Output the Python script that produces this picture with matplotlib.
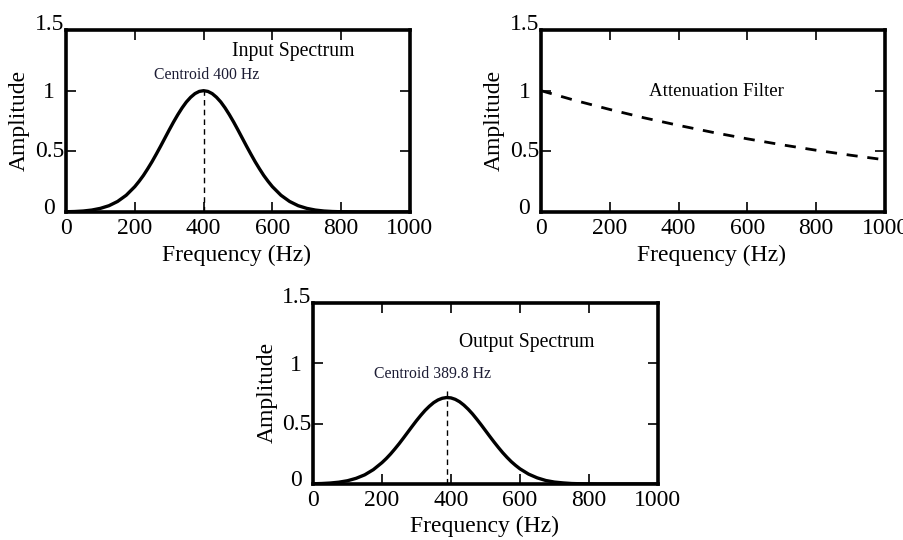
import matplotlib
matplotlib.use('Agg')
import matplotlib.pyplot as plt
from matplotlib.transforms import ScaledTranslation

plt.rcParams['font.family'] = ['Liberation Serif', 'DejaVu Serif']

# Frequenzachse (Hz) fuer die Spektren, feiner im Bereich 200-600 Hz
freq = [0, 25, 50, 75, 100, 125, 150, 175, 200,
        212.5, 225, 237.5, 250, 262.5, 275, 287.5, 300, 312.5, 325, 337.5, 350,
        362.5, 375, 387.5, 400, 412.5, 425, 437.5, 450, 462.5, 475, 487.5, 500,
        512.5, 525, 537.5, 550, 562.5, 575, 587.5, 600,
        625, 650, 675, 700, 725, 750, 775, 800, 825, 850, 875, 900, 925, 950, 975, 1000]

# Eingangsspektrum
input_amp = [0.002, 0.004, 0.008, 0.016, 0.030, 0.052, 0.087, 0.138, 0.209,
             0.253, 0.301, 0.356, 0.414, 0.477, 0.542, 0.609, 0.676, 0.741, 0.802, 0.858, 0.907,
             0.946, 0.976, 0.994, 1.000, 0.994, 0.976, 0.946, 0.907, 0.858, 0.802, 0.741, 0.676,
             0.609, 0.542, 0.477, 0.414, 0.356, 0.301, 0.253, 0.209,
             0.138, 0.087, 0.052, 0.030, 0.016, 0.008, 0.004, 0.002, 0.001, 0.0, 0.0, 0.0, 0.0, 0.0, 0.0, 0.0]

# Daempfungsfilter
filter_freq = [0, 100, 200, 300, 400, 500, 600, 700, 800, 900, 1000]
filter_amp = [1.0, 0.919, 0.845, 0.776, 0.714, 0.656, 0.603, 0.554, 0.509, 0.468, 0.430]

# Ausgangsspektrum
output_amp = [0.002, 0.004, 0.008, 0.015, 0.027, 0.047, 0.076, 0.119, 0.177,
              0.211, 0.249, 0.291, 0.335, 0.382, 0.430, 0.478, 0.525, 0.569, 0.610, 0.645, 0.675,
              0.697, 0.711, 0.717, 0.714, 0.702, 0.682, 0.654, 0.620, 0.581, 0.537, 0.491, 0.443,
              0.395, 0.348, 0.303, 0.260, 0.221, 0.185, 0.154, 0.126,
              0.082, 0.051, 0.029, 0.016, 0.009, 0.004, 0.002, 0.001, 0.0, 0.0, 0.0, 0.0, 0.0, 0.0, 0.0, 0.0]

centroid_in = 400
centroid_out = 389.8

xticks = [0, 200, 400, 600, 800, 1000]
yticks = [0, 0.5, 1, 1.5]
ytick_labels = ['0', '0.5', '1', '1.5']
# vertikale Verschiebung der y-Beschriftungen (Punkte)
ytick_shift = [4, 1.5, 0.5, 6]

fig = plt.figure(figsize=(9.04, 5.40), dpi=100)
ax1 = fig.add_axes([0.073, 0.6074, 0.3805, 0.337])
ax2 = fig.add_axes([0.5985, 0.6074, 0.3805, 0.337])
ax3 = fig.add_axes([0.3462, 0.1037, 0.3816, 0.335])


def style_axes(ax, ylab_x):
    ax.set_xlim(0, 1000)
    ax.set_ylim(0, 1.5)
    ax.set_xticks(xticks)
    ax.set_xticklabels([str(t) for t in xticks])
    ax.set_yticks(yticks)
    ax.set_yticklabels(ytick_labels)
    for s in ax.spines.values():
        s.set_linewidth(2.6)
    ax.tick_params(direction='in', top=True, right=True, length=7, width=1.2,
                   labelsize=17)
    ax.tick_params(axis='x', pad=4)
    ax.tick_params(axis='y', pad=12)
    for lab, dy in zip(ax.get_yticklabels(), ytick_shift):
        lab.set_ha('center')
        lab.set_transform(lab.get_transform() + ScaledTranslation(0, dy / 72, fig.dpi_scale_trans))
    ax.set_xlabel('Frequency (Hz)', fontsize=17, va='center')
    ax.set_ylabel('Amplitude', fontsize=17, va='center')
    ax.xaxis.set_label_coords(0.497, -0.236)
    ax.yaxis.set_label_coords(ylab_x, 0.505)


# Eingangsspektrum
ax1.plot(freq, input_amp, color='black', lw=2.4, solid_joinstyle='round')
ax1.plot([centroid_in, centroid_in], [0, 1.0], color='black', lw=1.0, ls=(0, (4, 3)))
ax1.text(662, 1.32, 'Input Spectrum', fontsize=14.2, ha='center', va='center')
ax1.text(408, 1.13, 'Centroid 400 Hz', fontsize=11.3, ha='center', va='center', color='#1c1c34')
style_axes(ax1, -0.137)

# Filter
ax2.plot(filter_freq, filter_amp, color='black', lw=2.0, ls=(0, (4, 3.5)))
ax2.text(510, 0.99, 'Attenuation Filter', fontsize=13.6, ha='center', va='center')
style_axes(ax2, -0.137)

# Ausgangsspektrum
ax3.plot(freq, output_amp, color='black', lw=2.4, solid_joinstyle='round')
ax3.plot([centroid_out, centroid_out], [0, 0.79], color='black', lw=1.0, ls=(0, (4, 3)))
ax3.text(620, 1.17, 'Output Spectrum', fontsize=14.2, ha='center', va='center')
ax3.text(348, 0.91, 'Centroid 389.8 Hz', fontsize=11.3, ha='center', va='center', color='#1c1c34')
style_axes(ax3, -0.133)

fig.savefig('out.png', dpi=100)
